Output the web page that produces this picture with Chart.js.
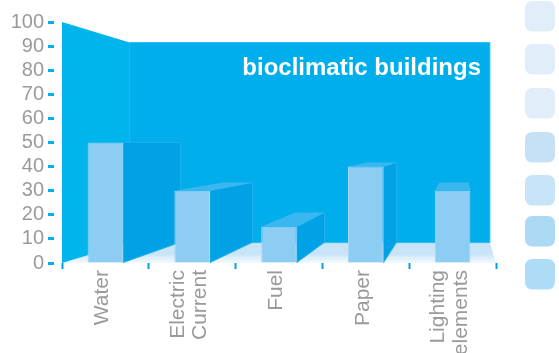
<!DOCTYPE html>
<html>
<head>
<meta charset="utf-8">
<style>
  html, body { margin: 0; padding: 0; background: #fff; overflow: hidden; }
  canvas { display: block; }
</style>
<script src="https://cdn.jsdelivr.net/npm/chart.js@4"></script>
</head>
<body>
<canvas id="chart" width="559" height="353"></canvas>
<script>
const categories = ['Water', ['Electric', 'Current'], 'Fuel', 'Paper', ['Lighting', 'elements']];
const values = [50, 30, 15, 40, 30];
const chartTitle = 'bioclimatic buildings';
const swatchColors = ['#e1eefa', '#e1eefa', '#e1eefa', '#c6e1f6', '#c8e4f8', '#acdaf5', '#aedbf6'];
const swatchTops = [1, 44, 88, 132, 175, 216, 259];

// everything recedes to one vanishing point, the back wall sits at 0.83 of the front
const vanishX = 460;
const vanishY = 143;
const depth = 0.83;
const back = (x, y) => [vanishX + depth * (x - vanishX), vanishY + depth * (y - vanishY)];

function poly(ctx, pts, fill, stroke) {
  ctx.beginPath();
  pts.forEach((p, i) => i ? ctx.lineTo(p[0], p[1]) : ctx.moveTo(p[0], p[1]));
  ctx.closePath();
  ctx.fillStyle = fill;
  ctx.fill();
  if (stroke) {
    ctx.strokeStyle = stroke;
    ctx.lineWidth = 1;
    ctx.stroke();
  }
}

const room = {
  id: 'room',
  beforeDatasetsDraw(chart) {
    const { ctx, chartArea: a } = chart;
    const tl = back(a.left, a.top), bl = back(a.left, a.bottom);
    const tr = back(a.right, a.top), br = back(a.right, a.bottom);

    const floor = ctx.createLinearGradient(0, bl[1], 0, a.bottom);
    floor.addColorStop(0, '#c8e4f8');
    floor.addColorStop(0.55, '#c8e4f8');
    floor.addColorStop(0.75, '#deeefb');
    floor.addColorStop(1, '#f4fafe');
    poly(ctx, [bl, br, [a.right, a.bottom], [a.left, a.bottom]], floor);
    poly(ctx, [tl, tr, br, bl], '#00aeeb', '#2cbcf0');
    poly(ctx, [[a.left, a.top], tl, bl, [a.left, a.bottom]], '#00b5ec');

    ctx.fillStyle = '#fff';
    ctx.font = 'bold 24px "Liberation Sans"';
    ctx.textAlign = 'right';
    ctx.textBaseline = 'alphabetic';
    ctx.fillText(chartTitle, 481, 75);

    // side and top faces of the bars
    chart.getDatasetMeta(0).data.forEach(bar => {
      const left = bar.x - bar.width / 2, right = bar.x + bar.width / 2;
      const sideVisible = back(right, bar.y)[0] > right;
      if (sideVisible) {
        poly(ctx, [[right, bar.y], back(right, bar.y), back(right, bar.base), [right, bar.base]], '#00a2e5', '#1fb0ec');
      }
      if (back(right, bar.y)[1] !== bar.y) {
        poly(ctx, [[left, bar.y], back(left, bar.y), back(right, bar.y), [right, bar.y]], '#3ab7ef');
      }
    });
  },
  afterDraw(chart) {
    const { ctx, scales: { x } } = chart;

    // rotated labels, Chart.js will not centre several lines on a rotated tick
    ctx.save();
    ctx.fillStyle = '#9a9a9a';
    ctx.font = '21px "Liberation Sans"';
    ctx.textAlign = 'right';
    ctx.textBaseline = 'middle';
    categories.forEach((label, i) => {
      const lines = [].concat(label);
      lines.forEach((line, j) => {
        ctx.save();
        ctx.translate(x.getPixelForTick(i) - 3 + (j - (lines.length - 1) / 2) * 22.5, x.top + 7);
        ctx.rotate(-Math.PI / 2);
        ctx.fillText(line, 0, 0);
        ctx.restore();
      });
    });
    ctx.restore();

    swatchColors.forEach((c, i) => {
      ctx.beginPath();
      ctx.roundRect(525, swatchTops[i], 30, 30.5, 7);
      ctx.fillStyle = c;
      ctx.fill();
    });
  }
};

new Chart(document.getElementById('chart'), {
  type: 'bar',
  data: {
    labels: categories,
    datasets: [{
      data: values,
      backgroundColor: '#8dcdf3',
      borderColor: '#a5d8f6',
      borderWidth: 1,
      barPercentage: 0.41,
      categoryPercentage: 1
    }]
  },
  options: {
    responsive: false,
    animation: false,
    layout: { padding: { top: 22, right: 63, left: 0, bottom: 0 } },
    plugins: { legend: { display: false }, tooltip: { enabled: false } },
    scales: {
      x: {
        afterFit(scale) { scale.height = 90; },
        border: { display: false },
        grid: { drawOnChartArea: false, tickLength: 6, tickWidth: 2, tickColor: '#00a0e4' },
        ticks: { display: false, autoSkip: false }
      },
      y: {
        min: 0,
        max: 100,
        afterFit(scale) { scale.width = 62; },
        border: { display: false },
        grid: { drawOnChartArea: false, tickLength: 14, tickWidth: 3, tickColor: '#00aeef', tickBorderDash: [6, 100] },
        ticks: {
          stepSize: 10,
          autoSkip: false,
          padding: 4,
          color: '#9a9a9a',
          font: { family: '"Liberation Sans"', size: 20 }
        }
      }
    }
  },
  plugins: [room]
});
</script>
</body>
</html>
